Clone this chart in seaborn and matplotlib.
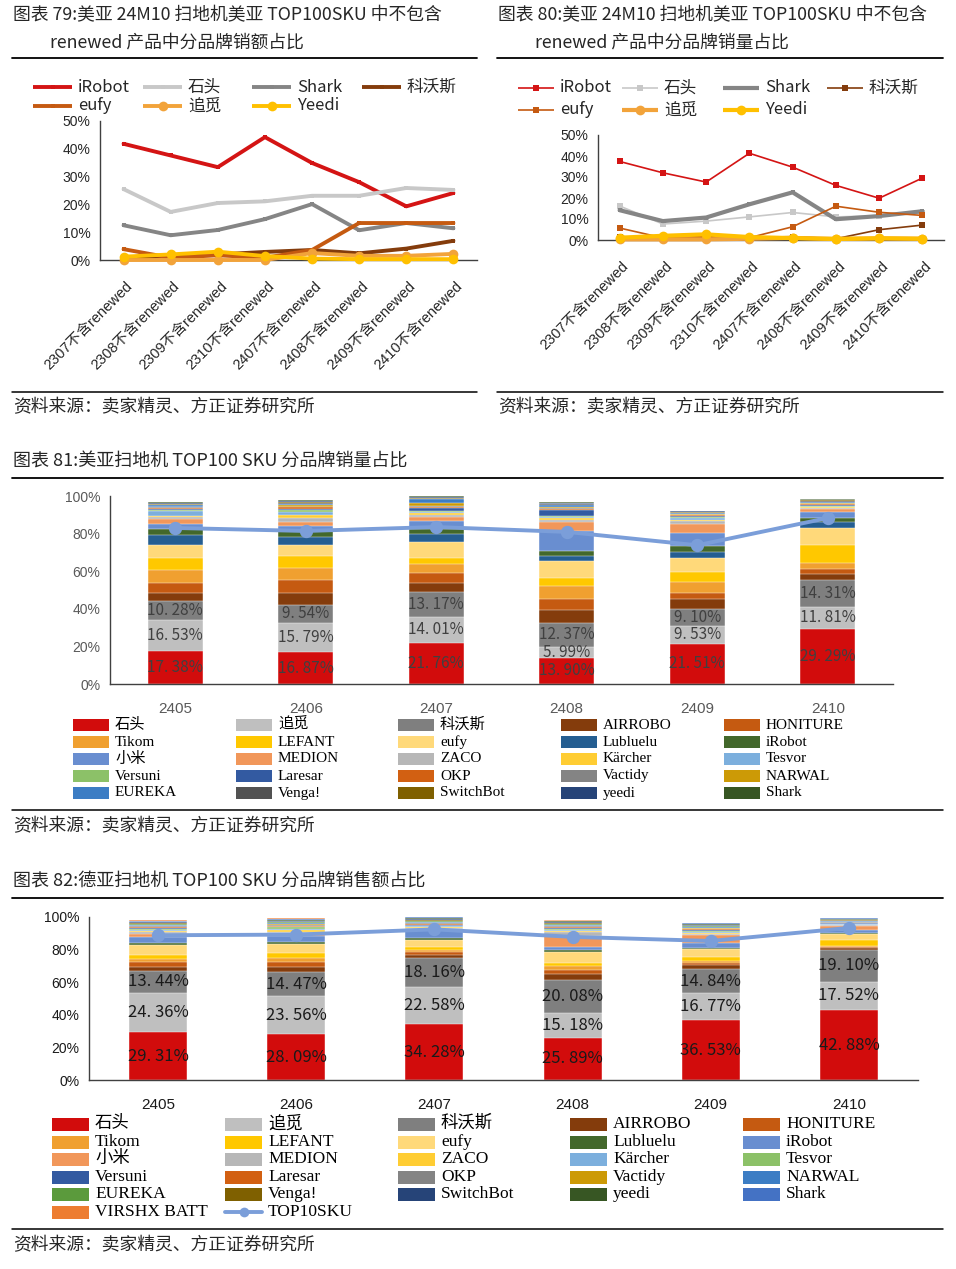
import numpy as np
import pandas as pd
import matplotlib
matplotlib.use("Agg")
import matplotlib.pyplot as plt
import seaborn as sns
from matplotlib.lines import Line2D
from matplotlib.patches import Rectangle
from matplotlib.transforms import ScaledTranslation

# ---------------- data ----------------
months_line = ["2307不含renewed", "2308不含renewed", "2309不含renewed", "2310不含renewed",
               "2407不含renewed", "2408不含renewed", "2409不含renewed", "2410不含renewed"]
line_brands = ["iRobot", "石头", "Shark", "科沃斯", "eufy", "追觅", "Yeedi"]

# Fig 79: sales value share (%)
value_irobot = [41.8, 37.6, 33.4, 44.2, 34.9, 28.0, 19.3, 24.1]
value_shitou = [25.5, 17.3, 20.5, 21.1, 23.1, 23.1, 25.9, 25.2]
value_shark = [12.5, 8.9, 10.8, 14.7, 20.1, 10.7, 13.3, 11.4]
value_kewosi = [0.8, 1.4, 2.0, 2.9, 3.6, 2.4, 4.1, 6.9]
value_eufy = [3.9, 0.8, 1.7, 0.8, 3.6, 13.3, 13.3, 13.3]
value_zhuimi = [0.0, 0.0, 0.0, 0.0, 2.5, 1.5, 1.5, 2.2]
value_yeedi = [1.2, 2.0, 3.0, 1.4, 0.5, 0.3, 0.3, 0.3]

# Fig 80: sales volume share (%)
volume_irobot = [37.4, 32.0, 27.6, 41.3, 34.7, 26.0, 19.9, 29.5]
volume_shitou = [16.2, 7.6, 9.0, 11.0, 13.1, 11.0, 11.5, 13.0]
volume_shark = [14.2, 9.0, 10.7, 17.0, 22.7, 9.9, 11.4, 13.7]
volume_kewosi = [1.2, 1.2, 1.3, 1.2, 1.6, 0.6, 4.9, 7.1]
volume_eufy = [5.7, 1.0, 1.6, 1.1, 6.3, 16.1, 13.2, 11.7]
volume_zhuimi = [0.3, 0.3, 0.3, 0.6, 1.0, 0.5, 0.8, 0.6]
volume_yeedi = [1.1, 2.0, 2.7, 1.4, 0.9, 0.5, 0.8, 0.6]

months_bar = ["2405", "2406", "2407", "2408", "2409", "2410"]

# Fig 81: US TOP100 SKU volume share by brand (%)
us_brands = ["石头", "追觅", "科沃斯", "AIRROBO", "HONITURE", "Tikom", "LEFANT", "eufy",
             "Lubluelu", "iRobot", "小米", "MEDION", "ZACO", "Kärcher", "Tesvor", "Versuni",
             "Laresar", "OKP", "Vactidy", "NARWAL", "EUREKA", "Venga!", "SwitchBot", "yeedi", "Shark"]
us_2405 = [17.38, 16.53, 10.28, 4.3, 5.0, 7.1, 6.2, 7.1, 5.1, 3.5, 2.7, 2.8, 0.7, 0.5, 2.6, 0.5, 0.7, 0.4, 0.5, 0.5, 0.6, 0.3, 0.4, 0.4, 0.5]
us_2406 = [16.87, 15.79, 9.54, 6.1, 7.1, 6.5, 6.1, 6.2, 4.0, 3.2, 2.7, 2.3, 2.1, 1.4, 1.4, 1.1, 0.9, 0.6, 0.5, 0.6, 0.7, 0.4, 0.5, 0.5, 0.6]
us_2407 = [21.76, 14.01, 13.17, 4.9, 5.0, 4.9, 3.2, 8.7, 4.4, 2.3, 4.4, 2.1, 1.1, 0.9, 0.7, 0.7, 1.4, 0.5, 0.6, 1.5, 2.0, 0.4, 0.4, 0.4, 0.4]
us_2408 = [13.90, 5.99, 12.37, 6.9, 6.2, 6.7, 4.4, 9.0, 2.5, 2.8, 10.6, 4.8, 1.2, 0.7, 0.6, 0.8, 3.0, 0.5, 0.6, 0.8, 0.8, 0.4, 0.4, 0.4, 0.4]
us_2409 = [21.51, 9.53, 9.10, 4.9, 3.5, 5.8, 5.0, 7.8, 3.2, 3.0, 7.2, 4.5, 1.7, 0.7, 0.6, 0.6, 0.5, 0.5, 0.4, 0.4, 0.4, 0.3, 0.4, 0.3, 0.3]
us_2410 = [29.29, 11.81, 14.31, 3.3, 2.7, 2.8, 9.6, 9.4, 3.1, 2.2, 3.2, 1.5, 0.4, 0.4, 0.4, 0.4, 0.4, 0.4, 0.4, 0.4, 0.4, 0.4, 0.4, 0.4, 0.4]
us_top10 = [83.0, 81.4, 83.5, 80.9, 73.8, 88.3]

# Fig 82: DE TOP100 SKU sales value share by brand (%)
de_brands = ["石头", "追觅", "科沃斯", "AIRROBO", "HONITURE", "Tikom", "LEFANT", "eufy",
             "Lubluelu", "iRobot", "小米", "MEDION", "ZACO", "Kärcher", "Tesvor", "Versuni",
             "Laresar", "OKP", "Vactidy", "NARWAL", "EUREKA", "Venga!", "SwitchBot", "yeedi", "Shark",
             "VIRSHX BATT"]
de_2405 = [29.31, 24.36, 13.44, 2.5, 2.6, 2.1, 2.4, 6.0, 1.3, 3.6, 2.2, 1.0, 0.6, 0.8, 0.7, 0.5, 0.5, 0.5, 0.3, 0.5, 0.6, 0.3, 0.6, 0.5, 0.6, 0.3]
de_2406 = [28.09, 23.56, 14.47, 3.5, 3.0, 2.2, 3.1, 5.5, 1.2, 4.0, 1.5, 0.8, 0.9, 1.0, 0.8, 0.5, 0.5, 0.4, 0.6, 0.6, 0.6, 0.4, 0.6, 0.5, 0.5, 0.3]
de_2407 = [34.28, 22.58, 18.16, 1.8, 1.6, 1.4, 1.5, 4.5, 1.2, 5.0, 0.8, 0.5, 0.4, 0.5, 0.4, 0.4, 0.6, 0.4, 0.4, 0.7, 0.7, 0.3, 0.6, 0.4, 0.6, 0.2]
de_2408 = [25.89, 15.18, 20.08, 3.6, 2.7, 2.4, 2.0, 6.5, 1.2, 2.0, 7.0, 2.5, 0.5, 0.6, 0.5, 0.4, 0.8, 0.4, 0.5, 0.6, 0.6, 0.3, 0.4, 0.6, 0.4, 0.3]
de_2409 = [36.53, 16.77, 14.84, 2.2, 1.2, 1.2, 2.5, 5.0, 0.8, 3.0, 5.0, 0.8, 0.5, 0.6, 0.5, 0.4, 0.5, 0.4, 0.4, 0.6, 0.5, 0.3, 0.6, 0.4, 0.5, 0.3]
de_2410 = [42.88, 17.52, 19.10, 1.2, 0.6, 0.8, 3.5, 4.0, 0.6, 1.8, 2.5, 0.4, 0.3, 0.4, 0.3, 0.3, 0.3, 0.3, 0.3, 0.3, 0.4, 0.3, 0.3, 0.3, 0.5, 0.3]
de_top10 = [88.8, 89.2, 92.4, 87.8, 85.3, 93.3]

source_text = "资料来源：卖家精灵、方正证券研究所"

# ---------------- styles ----------------
line_colors = {"iRobot": "#D41414", "石头": "#C8C8C8", "Shark": "#858585", "科沃斯": "#843C0C",
               "eufy": "#C55A11", "追觅": "#F2A33A", "Yeedi": "#FFC000"}
us_palette = {"石头": "#D20C0C", "追觅": "#BFBFBF", "科沃斯": "#7F7F7F", "AIRROBO": "#843C0C",
              "HONITURE": "#C55A11", "Tikom": "#F0A030", "LEFANT": "#FFC800", "eufy": "#FFD97A",
              "Lubluelu": "#255E91", "iRobot": "#43682B", "小米": "#698ED0", "MEDION": "#F1975A",
              "ZACO": "#B7B7B7", "Kärcher": "#FFCD33", "Tesvor": "#7CAFDD", "Versuni": "#8CC168",
              "Laresar": "#335AA1", "OKP": "#D26012", "Vactidy": "#848484", "NARWAL": "#CC9A06",
              "EUREKA": "#3C7DC4", "Venga!": "#525252", "SwitchBot": "#7F6000", "yeedi": "#264478",
              "Shark": "#375623"}
de_palette = {"石头": "#D20C0C", "追觅": "#BFBFBF", "科沃斯": "#7F7F7F", "AIRROBO": "#843C0C",
              "HONITURE": "#C55A11", "Tikom": "#F0A030", "LEFANT": "#FFC800", "eufy": "#FFD97A",
              "Lubluelu": "#43682B", "iRobot": "#698ED0", "小米": "#F1975A", "MEDION": "#B7B7B7",
              "ZACO": "#FFCD33", "Kärcher": "#7CAFDD", "Tesvor": "#8CC168", "Versuni": "#335AA1",
              "Laresar": "#D26012", "OKP": "#848484", "Vactidy": "#CC9A06", "NARWAL": "#3C7DC4",
              "EUREKA": "#5B9A3C", "Venga!": "#7F6000", "SwitchBot": "#264478", "yeedi": "#375623",
              "Shark": "#4472C4", "VIRSHX BATT": "#ED7D31"}
TOP10_COLOR = "#7B9ED9"

sns.set_style("white")
CJK = ["Noto Sans CJK SC", "DejaVu Sans"]
SANS = ["Liberation Sans", "Noto Sans CJK SC", "DejaVu Sans"]
SERIF = ["Liberation Serif", "Noto Sans CJK SC", "DejaVu Sans"]
plt.rcParams["font.family"] = SANS
plt.rcParams["axes.unicode_minus"] = False

W, H = 956, 1269
fig = plt.figure(figsize=(W / 100, H / 100), dpi=100)


def fx(x):
    return x / W


def fy(y):
    return 1 - y / H


def rect(x0, x1, y0, y1):
    return [x0 / W, 1 - y1 / H, (x1 - x0) / W, (y1 - y0) / H]


def hrule(x0, x1, y, lw=1.3, color="black"):
    fig.add_artist(Line2D([fx(x0), fx(x1)], [fy(y), fy(y)], color=color, lw=lw))


def ftext(x, y, s, **kw):
    kw.setdefault("va", "center")
    kw.setdefault("ha", "left")
    fig.text(fx(x), fy(y), s, **kw)


# ---------------- titles, rules, sources ----------------
ftext(13, 15, "图表 79:美亚 24M10 扫地机美亚 TOP100SKU 中不包含", fontsize=12.8, family=CJK)
ftext(50, 43, "renewed 产品中分品牌销额占比", fontsize=12.8, family=CJK)
ftext(498, 15, "图表 80:美亚 24M10 扫地机美亚 TOP100SKU 中不包含", fontsize=12.8, family=CJK)
ftext(535, 43, "renewed 产品中分品牌销量占比", fontsize=12.8, family=CJK)
hrule(12, 477, 58)
hrule(497, 943, 58)
hrule(12, 477, 392, lw=1.1)
hrule(497, 943, 392, lw=1.1)
ftext(13, 407, source_text, fontsize=12.8, family=CJK, color="#262626")
ftext(498, 407, source_text, fontsize=12.8, family=CJK, color="#262626")

ftext(13, 462, "图表 81:美亚扫地机 TOP100 SKU 分品牌销量占比", fontsize=13, family=CJK)
hrule(12, 943, 478)
hrule(12, 943, 810, lw=1.1)
ftext(13, 826, source_text, fontsize=12.8, family=CJK, color="#262626")

ftext(13, 882, "图表 82:德亚扫地机 TOP100 SKU 分品牌销售额占比", fontsize=13, family=CJK)
hrule(12, 943, 898)
hrule(12, 943, 1229, lw=1.1)
ftext(13, 1245, source_text, fontsize=12.8, family=CJK, color="#262626")


# ---------------- line charts ----------------
def line_chart(axrect, series, styles, label_dx):
    ax = fig.add_axes(axrect)
    for name, vals in zip(line_brands, series):
        lw, mk, ms = styles[name]
        sns.lineplot(x=months_line, y=vals, color=line_colors[name], linewidth=lw, marker=mk,
                     markersize=ms, markeredgewidth=0, sort=False, legend=False, ax=ax,
                     clip_on=False, zorder=3)
    ax.set_xlim(-0.5, len(months_line) - 0.5)
    ax.set_ylim(0, 50)
    ax.set_yticks(range(0, 51, 10))
    ax.set_yticklabels([f"{v}%" for v in range(0, 51, 10)])
    ax.set_xticks(np.arange(len(months_line)))
    ax.set_xticklabels(months_line, rotation=45, ha="right", va="center", rotation_mode="anchor")
    ax.set_xticks(np.arange(-0.5, len(months_line)), minor=True)
    ax.set_xlabel("")
    ax.set_ylabel("")
    for s in ["top", "right"]:
        ax.spines[s].set_visible(False)
    for s in ["left", "bottom"]:
        ax.spines[s].set_color("#404040")
        ax.spines[s].set_linewidth(1.0)
    ax.tick_params(axis="y", length=4, width=1, color="#404040", pad=3, labelsize=10,
                   labelcolor="#262626")
    ax.tick_params(axis="x", which="major", length=0, pad=17, labelsize=10.5, labelcolor="#262626")
    ax.tick_params(axis="x", which="minor", length=5, width=1, color="#404040", direction="out")
    offset = ScaledTranslation(label_dx / 72, 0, fig.dpi_scale_trans)
    for lbl in ax.get_xticklabels():
        lbl.set_transform(lbl.get_transform() + offset)
        lbl.set_fontfamily(SANS)
    return ax


styles79 = {"iRobot": (2.8, "s", 3), "石头": (2.8, "s", 3), "Shark": (2.8, "s", 3),
            "科沃斯": (2.8, "s", 3), "eufy": (2.8, "s", 3), "追觅": (2.8, "o", 7),
            "Yeedi": (2.8, "o", 7)}
styles80 = {"iRobot": (1.2, "s", 4), "石头": (1.2, "s", 4), "Shark": (3.0, "s", 3.5),
            "科沃斯": (1.2, "s", 4), "eufy": (1.2, "s", 4), "追觅": (3.0, "o", 7),
            "Yeedi": (3.0, "o", 7)}

line_chart(rect(100, 477, 121, 260),
           [value_irobot, value_shitou, value_shark, value_kewosi, value_eufy, value_zhuimi, value_yeedi],
           styles79, 5)
line_chart(rect(598, 944, 135, 240),
           [volume_irobot, volume_shitou, volume_shark, volume_kewosi, volume_eufy, volume_zhuimi, volume_yeedi],
           styles80, 5)


def legend_lines(xs, ys, length, styles, gap=6, fs=12):
    order = line_brands
    for i, name in enumerate(order):
        r, c = divmod(i, 4)
        x, y = xs[c], ys[r]
        lw, mk, ms = styles[name]
        col = line_colors[name]
        fig.add_artist(Line2D([fx(x), fx(x + length)], [fy(y), fy(y)], color=col, lw=lw,
                              solid_capstyle="butt"))
        fig.add_artist(Line2D([fx(x + length / 2)], [fy(y)], marker=mk, ms=ms, mew=0,
                              color=col, ls="none"))
        ftext(x + length + gap, y, name, fontsize=fs, family=CJK)


legend_lines([33, 143, 252, 362], [87, 106], 39, styles79)
legend_lines([518, 622, 723, 827], [88, 110], 36, styles80)


# ---------------- stacked bar charts ----------------
def stacked_chart(axrect, brands, month_lists, palette, top10, n_label, label_fs, label_color,
                  tick_color):
    ax = fig.add_axes(axrect)
    df = pd.DataFrame({m: v for m, v in zip(months_bar, month_lists)}, index=brands)
    cum = df.cumsum(axis=0)
    for b in reversed(brands):
        sns.barplot(x=months_bar, y=cum.loc[b].values, order=months_bar, color=palette[b],
                    width=0.42, saturation=1, errorbar=None, edgecolor="white", linewidth=0.3,
                    ax=ax)
    sns.pointplot(x=months_bar, y=top10, order=months_bar, color=TOP10_COLOR, markers="o",
                  errorbar=None, linewidth=2.8, markersize=7.5, ax=ax, zorder=6)
    for j, m in enumerate(months_bar):
        for b in brands[:n_label]:
            v = df.loc[b, m]
            mid = cum.loc[b, m] - v / 2
            ax.text(j, mid, f"{v:.2f}%".replace(".", ". "), ha="center", va="center",
                    fontsize=label_fs, color=label_color, family=CJK, zorder=7)
    ax.set_xlim(-0.5, len(months_bar) - 0.5)
    ax.set_ylim(0, 100)
    ax.set_yticks(range(0, 101, 20))
    ax.set_yticklabels([f"{v}%" for v in range(0, 101, 20)])
    ax.set_xticks(np.arange(-0.5, len(months_bar)), minor=True)
    ax.set_xlabel("")
    ax.set_ylabel("")
    for s in ["top", "right"]:
        ax.spines[s].set_visible(False)
    for s in ["left", "bottom"]:
        ax.spines[s].set_color("#404040")
        ax.spines[s].set_linewidth(1.0)
    ax.tick_params(axis="y", length=4, width=1, color="#404040", pad=3, labelsize=10,
                   labelcolor=tick_color)
    ax.tick_params(axis="x", which="major", length=0, pad=13, labelsize=11, labelcolor=tick_color)
    ax.tick_params(axis="x", which="minor", length=5, width=1, color="#404040", direction="out")
    return ax


stacked_chart(rect(110, 893, 496, 684), us_brands,
              [us_2405, us_2406, us_2407, us_2408, us_2409, us_2410], us_palette, us_top10,
              3, 11, "#404040", "#595959")
stacked_chart(rect(89, 918, 917, 1080), de_brands,
              [de_2405, de_2406, de_2407, de_2408, de_2409, de_2410], de_palette, de_top10,
              3, 12, "#1A1A1A", "#1A1A1A")


def legend_patches(entries, palette, xs, ys, pw, ph, tdx, fs):
    for i, name in enumerate(entries):
        r, c = divmod(i, 5)
        x, y = xs[c], ys[r]
        if name == "TOP10SKU":
            fig.add_artist(Line2D([fx(x), fx(x + pw)], [fy(y), fy(y)], color=TOP10_COLOR, lw=2.8))
            fig.add_artist(Line2D([fx(x + pw / 2)], [fy(y)], marker="o", ms=7, mew=0,
                                  color=TOP10_COLOR, ls="none"))
        else:
            fig.add_artist(Rectangle((fx(x), fy(y + ph / 2)), pw / W, ph / H,
                                     transform=fig.transFigure, facecolor=palette[name],
                                     edgecolor="none"))
        ftext(x + tdx, y, name, fontsize=fs, family=SERIF, color="black")


legend_patches(us_brands, us_palette, [73, 236, 398, 561, 724], [725, 742, 759, 776, 793],
               36, 12, 42, 11)
legend_patches(de_brands + ["TOP10SKU"], de_palette, [52, 225, 398, 570, 743],
               [1124, 1142, 1159, 1177, 1194, 1212], 37, 13, 43, 12.5)

fig.savefig("out.png", dpi=100)
